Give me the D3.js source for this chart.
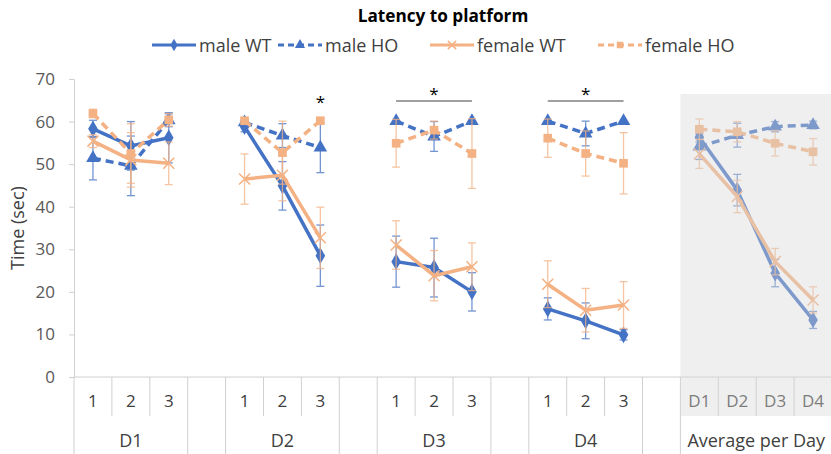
<!DOCTYPE html>
<html><head><meta charset="utf-8">
<script src="https://cdn.jsdelivr.net/npm/d3@7"></script>
<style>
body{margin:0;background:#fff;}
text{font-family:"Open Sans",sans-serif;}
</style></head>
<body><svg id="c" width="831" height="454"></svg>
<script>
// ---- data ----
const trialLabels = ["1","2","3","","1","2","3","","1","2","3","","1","2","3","","D1","D2","D3","D4"];
const groupLabels = ["D1","","D2","","D3","","D4","","Average per Day"];
const groupSizes  = [3,1,3,1,3,1,3,1,4];
const yTicks = [0,10,20,30,40,50,60,70];
const seriesNames = ["male WT","male HO","female WT","female HO"];

const maleWT    = [58.3,54.3,56.2,null,58.8,44.9,28.5,null,27.1,25.7,20.0,null,16.0,13.2,9.9,null,56.3,43.9,24.4,13.4];
const maleWTerr = [2.0,5.7,5.9,null,1.2,5.7,7.2,null,6.0,6.9,4.5,null,2.6,4.2,1.2,null,1.2,3.7,3.2,2.0];
const maleHO    = [51.4,49.6,60.3,null,59.8,56.7,53.9,null,60.1,56.5,60.1,null,60.1,57.2,60.1,null,54.1,56.8,58.8,59.2];
const maleHOerr = [5.1,7.0,1.5,null,0.5,2.8,5.9,null,0,3.5,0,null,0,2.9,0,null,3.0,2.8,1.2,0.9];
const femaleWT    = [55.4,51.0,50.2,null,46.5,47.4,32.7,null,31.0,23.8,25.9,null,21.8,15.7,16.9,null,52.4,42.4,27.1,18.1];
const femaleWTerr = [1.5,6.4,5.0,null,5.9,6.0,7.2,null,5.7,5.9,5.6,null,5.5,5.1,5.5,null,3.4,3.8,3.1,3.1];
const femaleHO    = [61.9,52.5,60.4,null,60.2,52.7,60.2,null,54.9,58.0,52.5,null,56.1,52.5,50.2,null,58.2,57.6,54.9,52.9];
const femaleHOerr = [1.0,7.0,1.5,null,0.5,7.4,0.5,null,5.6,2.1,8.2,null,4.5,5.3,7.2,null,2.4,2.4,3.0,3.1];

// significance annotations: [startIndex, endIndex]
const sigMarks = [[6,6],[8,10],[12,14]];

// ---- layout ----
const svg = d3.select("#c");
const W = 831, H = 454;
const pLeft = 74, pRight = 832, pTop = 79, pBottom = 377;
const x = d3.scaleBand().domain(d3.range(trialLabels.length)).range([pLeft, pRight]);
const y = d3.scaleLinear().domain([0,70]).range([pBottom, pTop]);
const cx = i => x(i) + x.bandwidth()/2;

const BLUE = "#4472C4", ORANGE = "#F4B183";
const series = [
  {name:seriesNames[0], v:maleWT, e:maleWTerr, color:BLUE, dash:null, sym:"diamond"},
  {name:seriesNames[1], v:maleHO, e:maleHOerr, color:BLUE, dash:"8,5", sym:"triangle"},
  {name:seriesNames[2], v:femaleWT, e:femaleWTerr, color:ORANGE, dash:null, sym:"x"},
  {name:seriesNames[3], v:femaleHO, e:femaleHOerr, color:ORANGE, dash:"8,5", sym:"square"}
];

// Title
svg.append("text").attr("x", 443).attr("y", 22).attr("text-anchor","middle")
  .attr("font-size",17.2).attr("font-weight","bold").attr("fill","#000").text("Latency to platform");

// Y axis
const yAxis = d3.axisLeft(y).tickValues(yTicks).tickSize(5).tickPadding(14);
const yg = svg.append("g").attr("transform",`translate(${pLeft},0)`).call(yAxis);
yg.select(".domain").attr("stroke","#d0d0d0");
yg.selectAll(".tick line").attr("stroke","#d0d0d0");
yg.selectAll(".tick text").attr("font-size",17).attr("fill","#595959").attr("font-family","Open Sans");
svg.append("text").attr("transform",`translate(24,228) rotate(-90)`)
  .attr("text-anchor","middle").attr("font-size",18).attr("fill","#404040").text("Time (sec)");

// X axis (multi-level)
const xg = svg.append("g");
xg.append("line").attr("x1",pLeft).attr("x2",W).attr("y1",pBottom).attr("y2",pBottom).attr("stroke","#d0d0d0");
let gStart = 0;
const bounds = [];
groupSizes.forEach((n,gi)=>{ bounds.push({start:gStart, n, label:groupLabels[gi]}); gStart += n; });
bounds.forEach(b=>{
  const x0 = x(b.start);
  xg.append("line").attr("x1",x0).attr("x2",x0).attr("y1",pBottom).attr("y2",H).attr("stroke","#d0d0d0");
  for(let k=1;k<b.n;k++){
    const xk = x(b.start+k);
    xg.append("line").attr("x1",xk).attr("x2",xk).attr("y1",pBottom).attr("y2",416).attr("stroke","#d0d0d0");
  }
  if(b.label){
    const xc = (x(b.start) + x(b.start+b.n-1) + x.bandwidth())/2;
    xg.append("text").attr("x",xc).attr("y",447).attr("text-anchor","middle")
      .attr("font-size",18).attr("fill","#404040").text(b.label);
  }
});
trialLabels.forEach((t,i)=>{
  if(!t) return;
  xg.append("text").attr("x",cx(i)).attr("y",407).attr("text-anchor","middle")
    .attr("font-size",17).attr("fill","#404040").text(t);
});

const segIdx = bounds.filter(b=>b.label).map(b=>d3.range(b.start,b.start+b.n));

function symPath(sym, size){
  if(sym==="diamond") return d3.symbol(d3.symbolDiamond, size)();
  if(sym==="triangle") return d3.symbol(d3.symbolTriangle, size)();
  if(sym==="square") return d3.symbol(d3.symbolSquare, size)();
  return null;
}
function drawMarker(g, s, px, py, scale){
  if(s.sym==="x"){
    const r = 5.5*scale;
    g.append("path").attr("d",`M${px-r},${py-r}L${px+r},${py+r}M${px-r},${py+r}L${px+r},${py-r}`)
      .attr("stroke",s.color).attr("stroke-width",1.5).attr("fill","none");
  } else {
    const size = {diamond:80, triangle:80, square:75}[s.sym]*scale*scale;
    g.append("path").attr("d",symPath(s.sym,size)).attr("transform",`translate(${px},${py})`)
      .attr("fill",s.color).attr("stroke","none");
  }
}

const plot = svg.append("g");
const line = d3.line().x(i=>cx(i)).curve(d3.curveLinear);
series.forEach(s=>{
  const g = plot.append("g");
  s.v.forEach((v,i)=>{
    if(v==null || !s.e[i]) return;
    const e = s.e[i];
    const eg = g.append("g").attr("stroke",s.color).attr("stroke-width",1.3).attr("opacity",0.75);
    eg.append("line").attr("x1",cx(i)).attr("x2",cx(i)).attr("y1",y(v-e)).attr("y2",y(v+e));
    [v-e,v+e].forEach(t=>eg.append("line").attr("x1",cx(i)-4).attr("x2",cx(i)+4).attr("y1",y(t)).attr("y2",y(t)));
  });
  segIdx.forEach(idx=>{
    g.append("path").attr("d", line.y(i=>y(s.v[i]))(idx))
      .attr("fill","none").attr("stroke",s.color).attr("stroke-width",3.5)
      .attr("stroke-dasharray",s.dash).attr("stroke-linejoin","round");
  });
  s.v.forEach((v,i)=>{ if(v!=null) drawMarker(g, s, cx(i), y(v), 1); });
});

sigMarks.forEach(([a,b])=>{
  const xc = (cx(a)+cx(b))/2;
  if(a!==b){
    svg.append("line").attr("x1",cx(a)).attr("x2",cx(b)).attr("y1",101).attr("y2",101)
      .attr("stroke","#404040").attr("stroke-width",1);
    svg.append("text").attr("x",xc).attr("y",100).attr("text-anchor","middle").attr("font-size",17).attr("fill","#000").text("*");
  } else {
    svg.append("text").attr("x",xc).attr("y",108).attr("text-anchor","middle").attr("font-size",17).attr("fill","#000").text("*");
  }
});

const avgB = bounds[bounds.length-1];
svg.append("rect").attr("x",x(avgB.start)).attr("y",94).attr("width",W-x(avgB.start)).attr("height",416-94)
  .attr("fill","#d7d7d7").attr("opacity",0.4);

const legX = [152,278,430,598];
const leg = svg.append("g");
series.forEach((s,k)=>{
  const x0 = legX[k], ly = 45;
  leg.append("line").attr("x1",x0).attr("x2",x0+44).attr("y1",ly).attr("y2",ly)
    .attr("stroke",s.color).attr("stroke-width",3).attr("stroke-dasharray",s.dash ? "6,4" : null);
  drawMarker(leg, s, x0+22, ly, 0.75);
  leg.append("text").attr("x",x0+47).attr("y",ly+6.5).attr("font-size",18).attr("fill","#404040").text(s.name);
});
</script></body></html>
